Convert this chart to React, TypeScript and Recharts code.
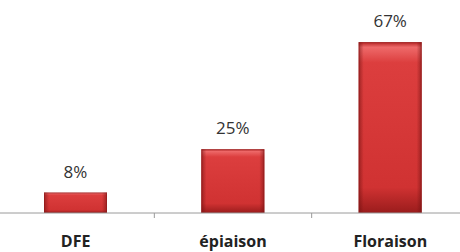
import { BarChart, Bar, XAxis, YAxis, LabelList } from "recharts";

const stages = ["DFE", "épiaison", "Floraison"];
const shares = [8, 25, 67];

const data = stages.map((stage, i) => ({ stage, share: shares[i] }));

const RedBar = (props: any) => {
  const { x, y, width, height } = props;
  if (!height || height <= 0) return null;
  return (
    <g>
      <rect x={x} y={y} width={width} height={height} fill="url(#barV)" />
      <rect x={x} y={y} width={width} height={height} fill="url(#barH)" />
      <rect x={x + 0.5} y={y + 0.5} width={width - 1} height={height - 1} fill="none" stroke="#8e1a1a" strokeOpacity={0.55} />
    </g>
  );
};

const StageTick = (props: any) => {
  const { x, y, payload, index } = props;
  const half = payload?.offset ?? 0;
  return (
    <g>
      {index < stages.length - 1 && (
        <line x1={x + half} x2={x + half} y1={y} y2={y + 5} stroke="#9a9a9a" />
      )}
      <text
        x={x}
        y={y + 34}
        textAnchor="middle"
        fontFamily="'Open Sans', sans-serif"
        fontWeight="bold"
        fontSize={16}
        fill="#222"
      >
        {payload.value}
      </text>
    </g>
  );
};

export default function App() {
  return (
    <div style={{ position: "fixed", left: 0, top: 0, width: 460, height: 252, overflow: "hidden", background: "#fff" }}>
      <div style={{ position: "absolute", left: -3, top: 0 }}>
        <BarChart width={472} height={252} data={data} margin={{ top: 9, right: 0, bottom: 0, left: 0 }} barCategoryGap={0}>
          <defs>
            <linearGradient id="barV" x1="0" y1="0" x2="0" y2="1">
              <stop offset="0" stopColor="#b52424" />
              <stop offset="0.03" stopColor="#ee6a6a" />
              <stop offset="0.12" stopColor="#dc3e3e" />
              <stop offset="0.85" stopColor="#d03232" />
              <stop offset="1" stopColor="#9a1c1c" />
            </linearGradient>
            <linearGradient id="barH" x1="0" y1="0" x2="1" y2="0">
              <stop offset="0" stopColor="#6e1010" stopOpacity={0.55} />
              <stop offset="0.08" stopColor="#6e1010" stopOpacity={0} />
              <stop offset="0.92" stopColor="#6e1010" stopOpacity={0} />
              <stop offset="1" stopColor="#6e1010" stopOpacity={0.55} />
            </linearGradient>
          </defs>
          <XAxis
            dataKey="stage"
            height={39}
            tickLine={false}
            tickSize={0}
            tickMargin={0}
            axisLine={{ stroke: "#9a9a9a" }}
            tick={<StageTick />}
            interval={0}
          />
          <YAxis hide domain={[0, 80]} />
          <Bar dataKey="share" barSize={63} shape={<RedBar />} isAnimationActive={false}>
            <LabelList
              dataKey="share"
              position="top"
              offset={15}
              formatter={(v: any) => `${v}%`}
              style={{ fontFamily: "'Open Sans', sans-serif", fontSize: 17, fill: "#333" }}
            />
          </Bar>
        </BarChart>
      </div>
    </div>
  );
}
